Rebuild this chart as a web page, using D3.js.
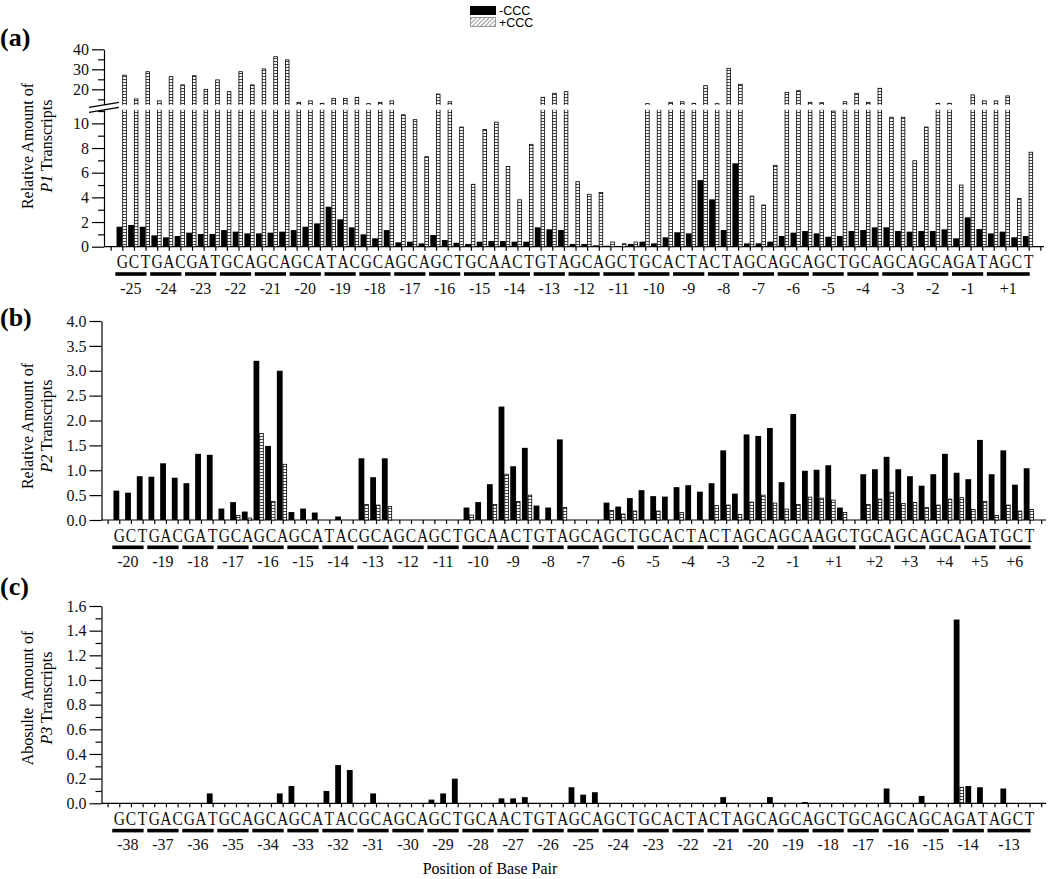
<!DOCTYPE html>
<html lang="en">
<head>
<meta charset="UTF-8">
<title>Transcripts by base pair</title>
<script src="https://d3js.org/d3.v7.min.js"></script>
<style>
  * { margin: 0; padding: 0; }
  body { background: white; }
  svg { display: block; font-family: 'Liberation Serif', 'Times New Roman', serif; }
  .ytitle { white-space: pre; }
</style>
</head>
<body>
<svg id="chart" width="1050" height="879"></svg>
<script>
// codons under each panel (the last or middle one has 4 letters)
const codonsA = ["GCT","GAC","GAT","GCA","GCA","GCA","TAC","GCA","GCA","GCT","GCA","ACT","GTA",
                 "GCA","GCT","GCA","CTA","CTA","GCA","GCA","GCT","GCA","GCA","GCA","GAT","AGCT"]
const numbersA = ["-25","-24","-23","-22","-21","-20","-19","-18","-17","-16","-15","-14","-13",
                  "-12","-11","-10","-9","-8","-7","-6","-5","-4","-3","-2","-1","+1"]
const codonsB = ["GCT","GAC","GAT","GCA","GCA","GCA","TAC","GCA","GCA","GCT","GCA","ACT","GTA",
                 "GCA","GCT","GCA","CTA","CTA","GCA","GCA","AGCT","GCA","GCA","GCA","GAT","GCT"]
const numbersB = ["-20","-19","-18","-17","-16","-15","-14","-13","-12","-11","-10","-9","-8",
                  "-7","-6","-5","-4","-3","-2","-1","+1","+2","+3","+4","+5","+6"]
const codonsC = ["GCT","GAC","GAT","GCA","GCA","GCA","TAC","GCA","GCA","GCT","GCA","ACT","GTA",
                 "GCA","GCT","GCA","CTA","CTA","GCA","GCA","GCT","GCA","GCA","GCA","GAT","AGCT"]
const numbersC = ["-38","-37","-36","-35","-34","-33","-32","-31","-30","-29","-28","-27","-26",
                  "-25","-24","-23","-22","-21","-20","-19","-18","-17","-16","-15","-14","-13"]

// one value per base, -CCC and +CCC
const minusA = [1.62,1.76,1.62, 0.92,0.76,0.87, 1.14,1.03,1.03, 1.35,1.22,1.08, 1.08,1.14,1.22,
                1.35,1.62,1.89, 3.24,2.22,1.57, 1.00,0.68,1.35, 0.35,0.41,0.27, 0.95,0.54,0.32,
                0.22,0.41,0.46, 0.46,0.41,0.41, 1.57,1.41,1.35, 0.22,0.22,0.11, 0.08,0.05,0.22,
                0.41,0.27,0.76, 1.17,1.08,5.40, 3.84,1.35,6.76, 0.27,0.27,0.41, 0.87,1.14,1.27,
                1.08,0.81,0.87, 1.27,1.35,1.57, 1.57,1.27,1.22, 1.27,1.27,1.41, 0.68,2.38,1.43,
                1.08,1.22,0.76,0.87]
const plusA = [27.1,15.2,28.8, 14.2,26.3,22.2, 26.8,20.0,24.7, 18.8,28.8,22.2, 30.2,36.3,34.7,
               13.5,14.2,13.0, 15.5,15.5,16.0, 12.8,13.5,14.2, 10.7,10.3,7.3, 17.6,13.8,9.7,
               5.06,9.5,10.1, 6.5,3.8,8.3, 16.0,18.0,18.8, 5.27,4.25,4.4, 0.38,0.24,0.38,
               12.8,11.6,13.5, 13.8,13.0,21.8, 12.8,30.5,22.5, 4.1,3.38,6.6, 18.5,19.3,13.5,
               13.3,11.0,13.8, 18.0,13.5,20.5, 10.5,10.5,6.97, 9.7,13.0,13.0, 5.0,17.2,14.2,
               14.2,16.7,3.9,7.66]

const minusB = [0.59,0.55,0.88, 0.87,1.14,0.85, 0.74,1.33,1.31, 0.23,0.36,0.17, 3.20,1.49,3.00,
                0.16,0.23,0.15, 0,0.07,0, 1.24,0.86,1.24, 0,0,0, 0,0,0,
                0.25,0.36,0.72, 2.28,1.08,1.45, 0.29,0.25,1.62, 0,0,0, 0.35,0.27,0.44,
                0.60,0.48,0.47, 0.66,0.70,0.57, 0.74,1.40,0.53, 1.72,1.69,1.85, 0.76,2.13,0.99,
                1.01,1.10,0.25,0, 0.92,1.02,1.27, 1.02,0.88,0.69, 0.92,1.33,0.95, 0.82,1.61,0.92,
                1.40,0.71,1.04]
const plusB = [0,0,0, 0,0,0, 0,0,0, 0,0.09,0.04, 1.74,0.37,1.12,
               0,0,0, 0,0,0, 0.31,0.30,0.27, 0,0,0, 0,0,0,
               0.10,0,0.31, 0.92,0.37,0.50, 0,0,0.25, 0,0,0, 0.19,0.12,0.18,
               0,0.18,0, 0.15,0,0, 0.29,0.30,0.11, 0.36,0.50,0.34, 0.22,0.31,0.46,
               0.44,0.40,0.15,0, 0.31,0.42,0.56, 0.33,0.35,0.25, 0.30,0.42,0.45, 0.21,0.37,0.09,
               0.30,0.18,0.21]

const minusC = [0,0,0, 0,0,0, 0,0,0.08, 0,0,0, 0,0,0.08,
                0.14,0,0, 0.10,0.31,0.27, 0,0.08,0, 0,0,0, 0.03,0.08,0.20,
                0,0,0, 0.04,0.04,0.05, 0,0,0, 0.13,0.07,0.09, 0,0,0,
                0,0,0, 0,0,0, 0,0.05,0, 0,0,0.05, 0,0,0.01,
                0,0,0, 0,0,0, 0.12,0,0, 0.06,0,0, 1.49,0.14,0.13,
                0,0.12,0,0]
const plusC = [0,0,0, 0,0,0, 0,0,0, 0,0,0, 0,0,0,
               0,0,0, 0,0,0, 0,0,0, 0,0,0, 0,0,0,
               0,0,0, 0,0,0, 0,0,0, 0,0,0, 0,0,0,
               0,0,0, 0,0,0, 0,0,0, 0,0,0, 0,0,0,
               0,0,0, 0,0,0, 0,0,0, 0,0,0, 0.13,0,0,
               0,0,0,0]

const svg = d3.select('#chart')

const defs = svg.append('defs')
const hatch = defs.append('pattern')
  .attr('id', 'hatch').attr('patternUnits', 'userSpaceOnUse')
  .attr('width', 6).attr('height', 3)
hatch.append('rect').attr('width', 6).attr('height', 3).attr('fill', '#fff')
hatch.append('line').attr('x1', 0).attr('x2', 6).attr('y1', 1.5).attr('y2', 1.5)
  .attr('stroke', '#333').attr('stroke-width', 0.9)
const diag = defs.append('pattern')
  .attr('id', 'diag').attr('patternUnits', 'userSpaceOnUse')
  .attr('width', 3).attr('height', 3).attr('patternTransform', 'rotate(45)')
diag.append('rect').attr('width', 3).attr('height', 3).attr('fill', '#fff')
diag.append('line').attr('x1', 1.5).attr('x2', 1.5).attr('y1', 0).attr('y2', 3)
  .attr('stroke', '#999').attr('stroke-width', 1)

// legend
svg.append('rect').attr('x', 470).attr('y', 6).attr('width', 26).attr('height', 9).attr('fill', '#000')
svg.append('rect').attr('x', 470.5).attr('y', 17.5).attr('width', 25).attr('height', 9)
  .attr('fill', 'url(#diag)').attr('stroke', '#999').attr('stroke-width', 1)
svg.append('text').text('-CCC').attr('x', 499).attr('y', 15)
  .attr('font-family', 'Liberation Sans, Arial, sans-serif').attr('font-size', 12.5)
svg.append('text').text('+CCC').attr('x', 499).attr('y', 27)
  .attr('font-family', 'Liberation Sans, Arial, sans-serif').attr('font-size', 12.5)

function styleAxis(g) {
  g.attr('font-family', null).attr('font-size', null)
  g.selectAll('.tick text').attr('font-size', 16).attr('fill', '#111')
  g.selectAll('line, path').attr('stroke', '#000').attr('stroke-width', 1.2)
}

function drawPanel(p) {
  const x = d3.scaleLinear().domain([-1, 79]).range(p.xRange)
  const base = p.baseY

  // y axis
  p.yAxes.forEach(a => {
    const major = svg.append('g').attr('transform', `translate(${p.axisX},0)`)
      .call(d3.axisLeft(a.scale).tickValues(a.major).tickSize(12).tickSizeOuter(0).tickFormat(a.format))
    styleAxis(major)
    if (a.minor.length) {
      const minor = svg.append('g').attr('transform', `translate(${p.axisX},0)`)
        .call(d3.axisLeft(a.scale).tickValues(a.minor).tickSize(6).tickSizeOuter(0).tickFormat(''))
      styleAxis(minor)
      minor.select('.domain').remove()
    }
  })

  // x axis: ticks at every base, line from the y axis to the end
  const xg = svg.append('g').attr('transform', `translate(0,${base})`)
    .call(d3.axisBottom(x).tickValues(d3.range(-1, 80)).tickSize(4).tickFormat(''))
  styleAxis(xg)
  xg.select('.domain').remove()
  xg.append('line').attr('x1', p.axisX).attr('x2', p.axisEnd)
    .attr('stroke', '#000').attr('stroke-width', 1.2)

  const y = p.y
  svg.append('g').selectAll('rect')
    .data(p.minus.map((v, k) => ({ v, k })).filter(d => d.v > 0))
    .join('rect')
    .attr('x', d => x(d.k) - 5.8).attr('width', 5.8)
    .attr('y', d => y(d.v)).attr('height', d => base - y(d.v))
    .attr('fill', '#000')
  svg.append('g').selectAll('rect')
    .data(p.plus.map((v, k) => ({ v, k })).filter(d => d.v > 0))
    .join('rect')
    .attr('x', d => x(d.k) + 0.4).attr('width', 3.6)
    .attr('y', d => y(d.v)).attr('height', d => base - y(d.v))
    .attr('fill', 'url(#hatch)').attr('stroke', '#000').attr('stroke-width', 0.8)

  if (p.after) p.after(x)

  // letters, codon bars and numbers
  let k = 0
  const letters = []
  const groups = []
  p.codons.forEach((c, i) => {
    groups.push({ first: k, last: k + c.length - 1, label: p.numbers[i] })
    c.split('').forEach(ch => { letters.push({ ch, k }); k++ })
  })
  svg.append('g').selectAll('text').data(letters).join('text')
    .attr('transform', d => `translate(${x(d.k)},${base + 21.5}) scale(0.82,1)`)
    .attr('text-anchor', 'middle').attr('font-size', 19).attr('fill', '#111')
    .text(d => d.ch)
  svg.append('g').selectAll('rect').data(groups).join('rect')
    .attr('x', d => x(d.first) - 7).attr('width', d => x(d.last) - x(d.first) + 8)
    .attr('y', base + 25.5).attr('height', 3.6).attr('fill', '#000')
  svg.append('g').selectAll('text').data(groups).join('text')
    .attr('x', d => (x(d.first) - 7 + x(d.last) + 1) / 2).attr('y', base + 47)
    .attr('text-anchor', 'middle').attr('font-size', 16).attr('fill', '#111')
    .text(d => d.label)

  // panel letter and y title
  svg.append('text').text(p.tag).attr('x', 0).attr('y', p.tagY)
    .attr('font-size', 26).attr('font-weight', 'bold')
  svg.append('text').attr('class', 'ytitle').text(p.title1)
    .attr('transform', `translate(33,${p.titleY}) rotate(-90)`)
    .attr('text-anchor', 'middle').attr('font-size', 16)
  const t2 = svg.append('text').attr('class', 'ytitle')
    .attr('transform', `translate(52,${p.titleY}) rotate(-90)`)
    .attr('text-anchor', 'middle').attr('font-size', 16)
  t2.append('tspan').attr('font-style', 'italic').text(p.title2a)
  t2.append('tspan').text(' Transcripts')
}

// panel (a): broken y axis
const yLoA = d3.scaleLinear().domain([0, 11.1]).range([246.7, 109.8])
const yHiA = d3.scaleLinear().domain([12.2, 40]).range([104.9, 49.3])
const yGapA = d3.scaleLinear().domain([11.1, 12.2]).range([109.8, 104.9])
const yA = v => v <= 11.1 ? yLoA(v) : v >= 12.2 ? yHiA(v) : yGapA(v)

drawPanel({
  xRange: [110.7, 1040.3], axisX: 104, axisEnd: 1044, baseY: 246.7,
  y: yA, minus: minusA, plus: plusA, codons: codonsA, numbers: numbersA,
  yAxes: [
    { scale: yLoA, major: [0, 2, 4, 6, 8, 10], minor: [1, 3, 5, 7, 9, 11], format: d3.format('d') },
    { scale: yHiA, major: [20, 30, 40], minor: [15, 25, 35], format: d3.format('d') }
  ],
  tag: '(a)', tagY: 46, title1: 'Relative Amount of', title2a: 'P1', titleY: 146,
  after: () => {
    svg.append('rect').attr('x', 106).attr('y', 104.9).attr('width', 945).attr('height', 4.9).attr('fill', '#fff')
    svg.append('polygon').attr('points', '89,107.4 119,102.4 119,107.3 89,112.3').attr('fill', '#fff')
    svg.append('line').attr('x1', 89).attr('y1', 107.4).attr('x2', 119).attr('y2', 102.4)
      .attr('stroke', '#000').attr('stroke-width', 1.2)
    svg.append('line').attr('x1', 89).attr('y1', 112.3).attr('x2', 119).attr('y2', 107.3)
      .attr('stroke', '#000').attr('stroke-width', 1.2)
  }
})

const yB = d3.scaleLinear().domain([0, 4]).range([520, 321])
drawPanel({
  xRange: [107.6, 1041.2], axisX: 101.5, axisEnd: 1046, baseY: 520,
  y: yB, minus: minusB, plus: plusB, codons: codonsB, numbers: numbersB,
  yAxes: [{ scale: yB, major: d3.range(0, 4.01, 0.5), minor: [], format: d3.format('.1f') }],
  tag: '(b)', tagY: 326, title1: 'Relative Amount of', title2a: 'P2', titleY: 426
})

const yC = d3.scaleLinear().domain([0, 1.6]).range([803.3, 606])
drawPanel({
  xRange: [107.6, 1041.2], axisX: 101.5, axisEnd: 1046, baseY: 803.3,
  y: yC, minus: minusC, plus: plusC, codons: codonsC, numbers: numbersC,
  yAxes: [{ scale: yC, major: d3.range(0, 1.61, 0.2), minor: d3.range(0.1, 1.6, 0.2), format: d3.format('.1f') }],
  tag: '(c)', tagY: 595, title1: 'Abosulte  Amount of', title2a: 'P3', titleY: 698
})

svg.append('text').text('Position of Base Pair').attr('x', 490).attr('y', 874)
  .attr('text-anchor', 'middle').attr('font-size', 16)
</script>
</body>
</html>
